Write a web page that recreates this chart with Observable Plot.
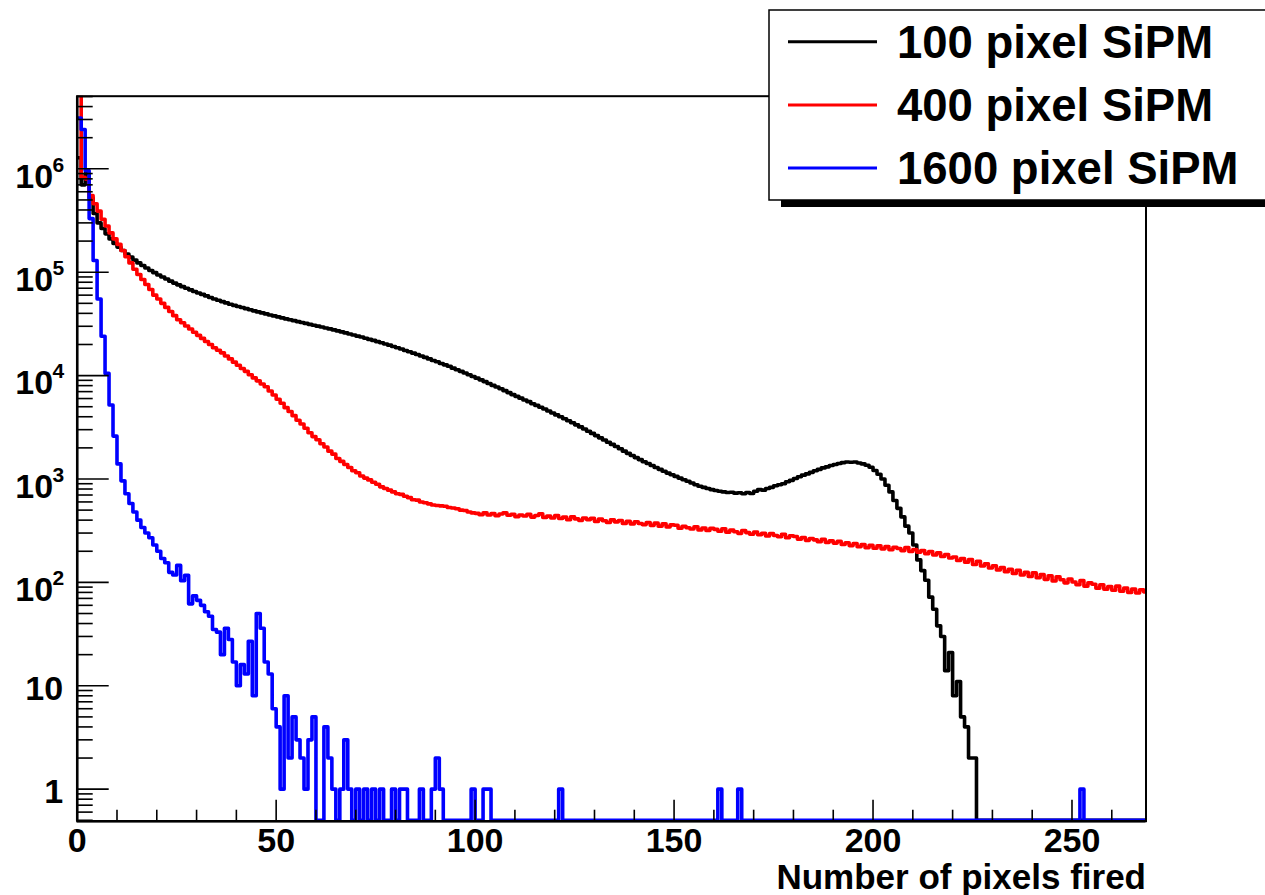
<!DOCTYPE html>
<html>
<head>
<meta charset="utf-8">
<script src="https://cdn.jsdelivr.net/npm/d3@7"></script>
<script src="https://cdn.jsdelivr.net/npm/@observablehq/plot@0.6"></script>
<style>
  html, body { margin: 0; padding: 0; background: #fff; }
  #wrap { position: relative; width: 1265px; height: 895px; overflow: hidden; background: #fff; }
  #legend { position: absolute; left: 0; top: 0; }
  text { font-family: "Liberation Sans", Arial, Helvetica, sans-serif; font-weight: bold; }
</style>
</head>
<body>
<div id="wrap"></div>
<script>
// ---------------- data (counts per 1-pixel bin, bin low edge = index) ----------------
const seriesNames = ["100 pixel SiPM", "400 pixel SiPM", "1600 pixel SiPM"];
const seriesColors = ["#000000", "#ff0000", "#0000ff"];

const counts100 = [
  1280000, 700000, 900000, 520000, 370000, 300000, 265000, 235000, 210000, 190000,
  175000, 162000, 150000, 140000, 131000, 123000, 116000, 110000, 104000, 99000,
  94000, 90000, 86000, 82000, 78500, 75500, 72500, 70000, 67500, 65000,
  63000, 61000, 59000, 57000, 55000, 53500, 52000, 50500, 49000, 47800,
  46600, 45500, 44400, 43300, 42300, 41300, 40400, 39500, 38600, 37800,
  37000, 36200, 35400, 34700, 34000, 33300, 32600, 32000, 31300, 30700,
  30100, 29500, 28900, 28300, 27700, 27100, 26500, 25900, 25300, 24700,
  24100, 23600, 23000, 22400, 21900, 21300, 20800, 20200, 19700, 19100,
  18600, 18100, 17500, 17000, 16500, 16000, 15500, 15000, 14500, 14000,
  13600, 13100, 12700, 12300, 11800, 11400, 11000, 10600, 10200, 9800,
  9450, 9100, 8750, 8400, 8050, 7750, 7450, 7150, 6850, 6550,
  6300, 6050, 5800, 5600, 5350, 5150, 4950, 4750, 4550, 4350,
  4170, 4000, 3830, 3660, 3500, 3340, 3190, 3040, 2900, 2760,
  2630, 2500, 2380, 2270, 2160, 2060, 1960, 1860, 1770, 1690,
  1610, 1540, 1470, 1410, 1350, 1290, 1240, 1190, 1140, 1100,
  1060, 1020, 985, 950, 915, 880, 850, 830, 810, 790,
  775, 760, 750, 740, 745, 730, 735, 720, 740, 725,
  760, 790, 780, 810, 830, 860, 880, 900, 940, 970,
  1010, 1050, 1090, 1120, 1160, 1200, 1240, 1280, 1310, 1350,
  1380, 1410, 1440, 1460, 1450, 1460, 1430, 1400, 1360, 1300,
  1210, 1110, 1000, 870, 750, 620, 520, 430, 350, 300,
  230, 165, 130, 105, 72, 55, 38, 30, 14, 21,
  8, 11, 5, 4, 2, 2, 0, 0, 0, 0,
  0, 0, 0, 0, 0, 0, 0, 0, 0, 0,
  0, 0, 0, 0, 0, 0, 0, 0, 0, 0,
  0, 0, 0, 0, 0, 0, 0, 0, 0, 0,
  0, 0, 0, 0, 0, 0, 0, 0, 0
];

const counts400 = [
  5200000, 830000, 800000, 550000, 460000, 390000, 325000, 280000, 240000, 210000,
  186000, 162000, 141000, 123000, 107000, 95000, 85000, 76000, 68000, 60000,
  55000, 50000, 45700, 41700, 38000, 34700, 32400, 30200, 28200, 26300,
  24500, 22900, 21400, 20000, 18600, 17600, 16600, 15500, 14500, 13500,
  12600, 11700, 11000, 10200, 9500, 8900, 8300, 7800, 7100, 6500,
  5900, 5400, 4900, 4500, 4100, 3700, 3400, 3100, 2800, 2570,
  2400, 2190, 2040, 1860, 1740, 1580, 1480, 1380, 1290, 1200,
  1150, 1070, 1020, 980, 930, 890, 840, 810, 780, 750,
  720, 710, 680, 660, 630, 625, 600, 590, 575, 560,
  555, 550, 545, 530, 525, 515, 500, 495, 480, 470,
  465, 452, 470, 448, 462, 441, 458, 470, 446, 455,
  432, 449, 438, 455, 428, 444, 460, 425, 437, 419,
  442, 415, 428, 403, 430, 411, 398, 420, 405, 416,
  388, 409, 394, 380, 402, 385, 397, 372, 389, 368,
  386, 371, 362, 380, 356, 374, 350, 368, 344, 360,
  357, 334, 349, 338, 328, 345, 322, 336, 318, 333,
  326, 312, 330, 306, 320, 309, 298, 318, 303, 292,
  306, 289, 298, 281, 296, 284, 276, 292, 270, 283,
  278, 262, 272, 255, 266, 258, 247, 261, 244, 252,
  240, 249, 233, 242, 227, 238, 221, 232, 216, 228,
  214, 226, 211, 222, 207, 219, 213, 203, 217, 199,
  208, 196, 203, 189, 199, 184, 193, 178, 186, 172,
  176, 163, 170, 157, 166, 149, 160, 144, 151, 138,
  145, 132, 139, 127, 134, 122, 131, 118, 125, 114,
  124, 111, 119, 107, 116, 103, 113, 106, 99, 108,
  101, 95, 104, 92, 99, 96, 88, 95, 86, 91,
  84, 92, 82, 88, 80, 86, 79, 85, 81
];

const counts1600 = [
  3100000, 2400000, 960000, 330000, 130000, 55000, 24000, 10500, 5200, 2600,
  1400, 960, 720, 580, 480, 400, 340, 300, 270, 230,
  200, 170, 155, 125, 118, 146, 104, 117, 62, 74,
  67, 60, 52, 47, 35, 33, 20, 36, 28, 17,
  10, 16, 13, 27, 8, 50, 36, 17, 13, 6,
  4, 1, 8, 2, 5, 3, 2, 1, 3, 5,
  0, 0, 4, 2, 1, 0, 1, 3, 1, 0,
  1, 0, 1, 0, 1, 0, 1, 0, 0, 1,
  0, 1, 1, 0, 0, 0, 1, 0, 0, 1,
  2, 1, 0, 0, 0, 0, 0, 0, 0, 1,
  0, 0, 1, 1, 0, 0, 0, 0, 0, 0,
  0, 0, 0, 0, 0, 0, 0, 0, 0, 0,
  0, 1, 0, 0, 0, 0, 0, 0, 0, 0,
  0, 0, 0, 0, 0, 0, 0, 0, 0, 0,
  0, 0, 0, 0, 0, 0, 0, 0, 0, 0,
  0, 0, 0, 0, 0, 0, 0, 0, 0, 0,
  0, 1, 0, 0, 0, 0, 1, 0, 0, 0,
  0, 0, 0, 0, 0, 0, 0, 0, 0, 0,
  0, 0, 0, 0, 0, 0, 0, 0, 0, 0,
  0, 0, 0, 0, 0, 0, 0, 0, 0, 0,
  0, 0, 0, 0, 0, 0, 0, 0, 0, 0,
  0, 0, 0, 0, 0, 0, 0, 0, 0, 0,
  0, 0, 0, 0, 0, 0, 0, 0, 0, 0,
  0, 0, 0, 0, 0, 0, 0, 0, 0, 0,
  0, 0, 0, 0, 0, 0, 0, 0, 0, 0,
  0, 0, 1, 0, 0, 0, 0, 0, 0, 0,
  0, 0, 0, 0, 0, 0, 0, 0, 0
];

const xMajorTicks = [0, 50, 100, 150, 200, 250];
const xMinorStep = 10;
const yMajorTicks = [1, 10, 100, 1000, 10000, 100000, 1000000];
const yTickBase = ["1", "10", "10", "10", "10", "10", "10"];
const yTickExp  = ["", "", "2", "3", "4", "5", "6"];
const yMinorMult = [2, 3, 4, 5, 6, 7, 8, 9];
const xTitle = "Number of pixels fired";

// ---------------- layout ----------------
const W = 1265, H = 895;
const frameL = 76.7, frameR = 1145.5, frameT = 95.7, frameB = 820.7;
const plotW = frameR - frameL, plotH = frameB - frameT;
const xDomain = [0, 268.6];
const yDomain = [0.49, 5.04e6];
const FONT = '"Liberation Sans", Arial, Helvetica, sans-serif';

// histogram step data (each bin drawn from its low edge to the next)
function histPoints(name, arr) {
  const pts = arr.map((v, i) => ({series: name, x: i, v}));
  pts.push({series: name, x: arr.length, v: arr[arr.length - 1]});
  return pts;
}
const allCounts = [counts100, counts400, counts1600];

const xMinorTicks = d3.range(0, xDomain[1], xMinorStep).filter(v => !xMajorTicks.includes(v));
const yMinorTicks = [];
for (let e = -1; e <= 6; e++) for (const m of yMinorMult) {
  const v = m * Math.pow(10, e);
  if (v > yDomain[0] && v < yDomain[1]) yMinorTicks.push(v);
}
const yLabelData = yMajorTicks.map((v, i) => ({v, base: yTickBase[i], exp: yTickExp[i]}));

const histMarks = seriesNames.map((name, k) =>
  Plot.line(histPoints(name, allCounts[k]), {
    x: "x", y: d => Math.max(d.v, 0.5), curve: "step-after",
    stroke: seriesColors[k], strokeWidth: 3.6, clip: true
  })
);

const chart = Plot.plot({
  width: W, height: H,
  marginLeft: frameL, marginRight: W - frameR, marginTop: frameT, marginBottom: H - frameB,
  x: {domain: xDomain, axis: null},
  y: {type: "log", domain: yDomain, axis: null},
  style: {fontFamily: FONT, fontWeight: "bold", background: "white", color: "black", overflow: "visible"},
  marks: [
    ...histMarks,
    Plot.frame({stroke: "black", strokeWidth: 2}),
    Plot.ruleX([xDomain[0]], {stroke: "black", strokeWidth: 2.5}),
    Plot.ruleY([yDomain[0]], {stroke: "black", strokeWidth: 2.5}),
    // x ticks (inside, from bottom)
    Plot.ruleX(xMajorTicks, {insetTop: plotH - 21, stroke: "black", strokeWidth: 1.6}),
    Plot.ruleX(xMinorTicks, {insetTop: plotH - 11, stroke: "black", strokeWidth: 1.6}),
    // y ticks (inside, from left)
    Plot.ruleY(yMajorTicks, {insetRight: plotW - 32, stroke: "black", strokeWidth: 1.6}),
    Plot.ruleY(yMinorTicks, {insetRight: plotW - 16, stroke: "black", strokeWidth: 1.6}),
    // x tick labels
    Plot.text(xMajorTicks, {x: d => d, frameAnchor: "bottom", dy: 20, lineAnchor: "middle",
      text: d => String(d), fontSize: 34, fontWeight: "bold", fill: "black"}),
    // y tick labels: plain ones
    Plot.text(yLabelData.filter(d => d.exp === ""), {y: "v", frameAnchor: "left", dx: -14, dy: 3,
      textAnchor: "end", lineAnchor: "middle", text: "base", fontSize: 34, fontWeight: "bold", fill: "black"}),
    // y tick labels: powers of ten (base + exponent)
    Plot.text(yLabelData.filter(d => d.exp !== ""), {y: "v", frameAnchor: "left", dx: -24, dy: 8,
      textAnchor: "end", lineAnchor: "middle", text: "base", fontSize: 34, fontWeight: "bold", fill: "black"}),
    Plot.text(yLabelData.filter(d => d.exp !== ""), {y: "v", frameAnchor: "left", dx: -13, dy: -4,
      textAnchor: "end", lineAnchor: "middle", text: "exp", fontSize: 21, fontWeight: "bold", fill: "black"}),
    // x title
    Plot.text([xTitle], {frameAnchor: "bottom-right", dy: 57, textAnchor: "end", lineAnchor: "middle",
      text: d => d, fontSize: 35, fontWeight: "bold", fill: "black"})
  ]
});

const wrap = document.getElementById("wrap");
wrap.appendChild(chart);

// ---------------- legend (overlay, ROOT-style box with shadow) ----------------
const legend = d3.select(wrap).append("svg")
  .attr("id", "legend").attr("width", W).attr("height", H)
  .style("pointer-events", "none");
const boxX = 769, boxY = 10, boxW = 520, boxH = 190, shadow = 12, shadowY = 7;
legend.append("rect").attr("x", boxX + shadow).attr("y", boxY + shadowY)
  .attr("width", boxW).attr("height", boxH).attr("fill", "black");
legend.append("rect").attr("x", boxX).attr("y", boxY)
  .attr("width", boxW).attr("height", boxH).attr("fill", "white")
  .attr("stroke", "black").attr("stroke-width", 1.5);
const rowY = [41.7, 105, 168];
seriesNames.forEach((name, i) => {
  legend.append("line").attr("x1", 788).attr("x2", 877).attr("y1", rowY[i]).attr("y2", rowY[i])
    .attr("stroke", seriesColors[i]).attr("stroke-width", 3);
  legend.append("text").attr("x", 897).attr("y", rowY[i] + 16)
    .attr("font-size", 45.5).attr("font-weight", "bold").attr("fill", "black")
    .style("font-family", FONT).text(name);
});
</script>
</body>
</html>
